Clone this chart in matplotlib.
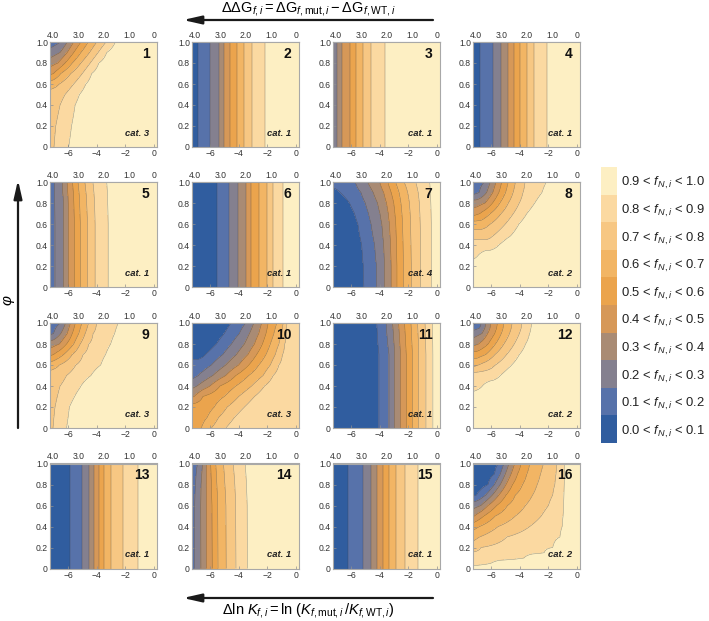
import numpy as np
import matplotlib
matplotlib.use('Agg')
import matplotlib.pyplot as plt

plt.rcParams['font.family'] = ['Liberation Sans', 'DejaVu Sans']
plt.rcParams['mathtext.fontset'] = 'custom'
plt.rcParams['mathtext.rm'] = 'Liberation Sans'
plt.rcParams['mathtext.it'] = 'Liberation Sans:italic'
plt.rcParams['mathtext.bf'] = 'Liberation Sans:bold'

nan = np.nan

# f_N,i bands
levels = [0.0, 0.1, 0.2, 0.3, 0.4, 0.5, 0.6, 0.7, 0.8, 0.9, 1.0]
band_colors = ['#305d9f', '#5772aa', '#84808f', '#a98b74', '#d69858',
               '#eba44d', '#f2b564', '#f7c783', '#fbd9a1', '#fdefc3']
band_labels = ['%.1f < $f_{N,i}$ < %.1f' % (levels[k], levels[k + 1]) for k in range(10)]
crossing_levels = np.array(levels[1:-1])

x_ticks = [-6, -4, -2, 0]
top_ticks = [4.0, 3.0, 2.0, 1.0, 0.0]
top_labels = ['4.0', '3.0', '2.0', '1.0', '0']
y_ticks = [0, 0.2, 0.4, 0.6, 0.8, 1.0]
y_labels = ['0', '0.2', '0.4', '0.6', '0.8', '1.0']
RT = 0.57

categories = ['cat. 3', 'cat. 1', 'cat. 1', 'cat. 1',
              'cat. 1', 'cat. 1', 'cat. 4', 'cat. 2',
              'cat. 3', 'cat. 3', 'cat. 1', 'cat. 2',
              'cat. 1', 'cat. 1', 'cat. 1', 'cat. 2']

# ln K where f crosses 0.1 ... 0.9, one row per phi value (nan = outside the panel)
phi1 = [0.0, 0.2, 0.4, 0.5, 0.6, 0.7, 0.8, 0.9, 1.0]
cross1 = [[nan, nan, nan, nan, nan, nan, nan, -6.97, -5.95],
          [nan, nan, nan, nan, nan, nan, nan, -6.85, -5.75],
          [nan, nan, nan, nan, nan, nan, nan, -6.55, -5.5],
          [nan, nan, nan, nan, nan, nan, nan, -6.2, -5.2],
          [nan, nan, nan, nan, nan, nan, -6.6, -5.6, -4.75],
          [nan, nan, nan, nan, -7.0, -6.5, -5.8, -5.0, -4.35],
          [nan, nan, nan, -6.7, -6.2, -5.7, -5.1, -4.45, -3.85],
          [nan, nan, -6.55, -6.05, -5.6, -5.1, -4.5, -3.9, -3.3],
          [nan, -6.5, -6.05, -5.6, -5.1, -4.6, -4.0, -3.35, -2.7]]

phi2 = [0.0, 1.0]
cross2 = [[-6.86, -6.0, -5.4, -5.0, -4.6, -4.1, -3.6, -3.1, -2.2],
          [-6.86, -6.0, -5.4, -5.0, -4.6, -4.1, -3.6, -3.1, -2.2]]

phi3 = [0.0, 1.0]
cross3 = [[nan, nan, -6.97, -6.63, -6.1, -5.65, -5.19, -4.64, -3.66],
          [nan, nan, -6.97, -6.63, -6.1, -5.65, -5.19, -4.64, -3.66]]

phi4 = [0.0, 1.0]
cross4 = [[-6.75, -5.89, -5.29, -4.84, -4.38, -4.0, -3.48, -2.97, -2.13],
          [-6.75, -5.89, -5.29, -4.84, -4.38, -4.0, -3.48, -2.97, -2.13]]

phi5 = [0.0, 0.6, 0.85, 1.0]
cross5 = [[nan, -6.9, -6.29, -5.95, -5.55, -5.14, -4.64, -4.11, -3.2],
          [nan, -6.9, -6.29, -5.95, -5.55, -5.14, -4.64, -4.11, -3.2],
          [nan, -6.92, -6.33, -5.99, -5.6, -5.2, -4.71, -4.17, -3.24],
          [nan, -6.95, -6.4, -6.06, -5.68, -5.3, -4.82, -4.27, -3.3]]

phi6 = [0.0, 1.0]
cross6 = [[-5.48, -4.69, -4.03, -3.51, -3.13, -2.61, -2.04, -1.59, -0.91],
          [-5.48, -4.69, -4.03, -3.51, -3.13, -2.61, -2.04, -1.59, -0.91]]

phi7 = [0.0, 0.2, 0.4, 0.6, 0.7, 0.8, 0.9, 1.0]
cross7 = [[-5.1, -4.2, -3.65, -3.2, -2.8, -2.35, -1.8, -1.15, -0.4],
          [-5.14, -4.22, -3.66, -3.2, -2.8, -2.35, -1.8, -1.15, -0.4],
          [-5.25, -4.35, -3.72, -3.24, -2.83, -2.37, -1.82, -1.16, -0.4],
          [-5.52, -4.6, -3.85, -3.32, -2.88, -2.41, -1.85, -1.18, -0.41],
          [-5.75, -4.78, -3.98, -3.4, -2.94, -2.45, -1.88, -1.2, -0.42],
          [-6.1, -5.0, -4.15, -3.52, -3.02, -2.52, -1.93, -1.24, -0.44],
          [-6.75, -5.3, -4.45, -3.72, -3.2, -2.65, -2.05, -1.32, -0.47],
          [nan, -5.7, -4.85, -4.0, -3.45, -2.9, -2.3, -1.5, -0.52]]

phi8 = [0.0, 0.2, 0.3, 0.4, 0.5, 0.6, 0.7, 0.8, 0.9, 1.0]
cross8 = [[nan, nan, nan, nan, nan, nan, nan, nan, -8.5],
          [nan, nan, nan, nan, nan, nan, nan, nan, -8.0],
          [nan, nan, nan, nan, nan, nan, nan, nan, -6.9],
          [nan, nan, nan, nan, nan, nan, nan, nan, -5.45],
          [nan, nan, nan, nan, nan, nan, nan, -5.74, -4.55],
          [nan, nan, nan, nan, nan, nan, -6.04, -5.0, -4.05],
          [nan, nan, nan, nan, -6.77, -6.04, -5.29, -4.44, -3.5],
          [nan, nan, nan, -6.41, -5.89, -5.38, -4.79, -4.03, -2.95],
          [nan, -6.82, -6.3, -5.87, -5.45, -4.98, -4.46, -3.77, -2.45],
          [nan, -6.45, -6.05, -5.65, -5.25, -4.8, -4.3, -3.63, -2.15]]

phi9 = [0.0, 0.2, 0.4, 0.5, 0.6, 0.7, 0.8, 0.9, 1.0]
cross9 = [[nan, nan, nan, nan, nan, nan, nan, -7.04, -6.1],
          [nan, nan, nan, nan, nan, nan, nan, -6.9, -5.9],
          [nan, nan, nan, nan, nan, nan, nan, -6.55, -5.1],
          [nan, nan, nan, nan, nan, nan, nan, -6.1, -4.4],
          [nan, nan, nan, nan, nan, nan, -6.6, -5.45, -3.72],
          [nan, nan, nan, nan, -7.0, -6.3, -5.7, -4.95, -3.38],
          [nan, nan, nan, -6.6, -6.1, -5.6, -5.15, -4.55, -3.03],
          [nan, -7.0, -6.5, -6.05, -5.7, -5.25, -4.8, -4.25, -2.75],
          [nan, -6.51, -6.17, -5.83, -5.49, -5.03, -4.57, -4.0, -2.5]]

phi10 = [0.0, 0.1, 0.2, 0.3, 0.4, 0.5, 0.6, 0.7, 0.8, 0.9, 1.0]
cross10 = [[nan, nan, nan, nan, nan, -6.6, -5.9, -4.9, nan],
           [nan, nan, nan, nan, nan, -6.2, -5.4, -4.3, nan],
           [nan, nan, nan, nan, nan, -5.7, -4.8, -3.6, nan],
           [nan, nan, nan, -7.1, -6.5, -5.0, -4.0, -2.9, nan],
           [nan, nan, -6.9, -6.0, -5.3, -4.2, -3.1, -2.2, nan],
           [nan, -6.8, -5.8, -4.9, -4.2, -3.3, -2.3, -1.6, nan],
           [nan, -5.9, -4.9, -4.0, -3.3, -2.6, -1.8, -1.2, nan],
           [-6.3, -5.1, -4.15, -3.35, -2.75, -2.1, -1.45, -0.95, nan],
           [-5.55, -4.5, -3.6, -2.9, -2.35, -1.8, -1.2, -0.8, nan],
           [-5.0, -3.95, -3.25, -2.6, -2.1, -1.55, -1.0, -0.7, nan],
           [-4.53, -3.5, -2.95, -2.4, -1.95, -1.35, -0.9, -0.65, nan]]

phi11 = [0.0, 0.7, 1.0]
cross11 = [[-4.05, -3.35, -2.95, -2.55, -2.15, -1.72, -1.28, -0.78, -0.3],
           [-4.05, -3.35, -2.95, -2.55, -2.15, -1.72, -1.28, -0.78, -0.3],
           [-4.2, -3.55, -3.1, -2.68, -2.27, -1.82, -1.36, -0.84, -0.32]]

phi12 = [0.0, 0.3, 0.4, 0.5, 0.6, 0.7, 0.8, 0.9, 0.95, 1.0]
cross12 = [[nan, nan, nan, nan, nan, nan, nan, nan, -8.5],
           [nan, nan, nan, nan, nan, nan, nan, nan, -8.0],
           [nan, nan, nan, nan, nan, nan, nan, nan, -6.6],
           [nan, nan, nan, nan, nan, nan, nan, nan, -5.35],
           [nan, nan, nan, nan, nan, nan, -6.88, -5.69, -4.56],
           [nan, nan, nan, nan, nan, -6.36, -5.72, -4.91, -4.02],
           [nan, nan, nan, -6.86, -6.2, -5.69, -5.1, -4.38, -3.59],
           [nan, nan, -6.62, -6.23, -5.74, -5.28, -4.71, -4.02, -3.31],
           [nan, -6.81, -6.43, -6.07, -5.61, -5.16, -4.59, -3.9, -3.22],
           [-6.9, -6.68, -6.34, -6.0, -5.55, -5.1, -4.53, -3.85, -3.17]]

phi13 = [0.0, 1.0]
cross13 = [[-5.85, -5.0, -4.55, -4.16, -3.82, -3.48, -3.04, -2.2, -1.12],
           [-5.85, -5.0, -4.55, -4.16, -3.82, -3.48, -3.04, -2.2, -1.12]]

phi14 = [0.0, 0.6, 0.8, 1.0]
cross14 = [[nan, -7.06, -6.63, -6.23, -5.84, -5.44, -4.87, -4.19, -3.4],
           [nan, -7.06, -6.64, -6.25, -5.86, -5.46, -4.89, -4.21, -3.41],
           [nan, -7.0, -6.62, -6.26, -5.9, -5.52, -4.96, -4.27, -3.46],
           [nan, -6.85, -6.52, -6.22, -5.95, -5.6, -5.06, -4.38, -3.55]]

phi15 = [0.0, 1.0]
cross15 = [[-6.2, -5.17, -4.62, -4.17, -3.76, -3.34, -2.84, -2.27, -1.36],
           [-6.2, -5.17, -4.62, -4.17, -3.76, -3.34, -2.84, -2.27, -1.36]]

phi16 = [0.0, 0.05, 0.1, 0.15, 0.2, 0.3, 0.4, 0.5, 0.6, 0.7, 0.8, 0.9, 1.0]
cross16 = [[nan, nan, nan, nan, nan, nan, nan, -11.0, -8.5],
           [nan, nan, nan, nan, nan, nan, nan, -9.0, -6.0],
           [nan, nan, nan, nan, nan, nan, nan, -8.2, -3.7],
           [nan, nan, nan, nan, nan, nan, nan, -7.6, -2.3],
           [nan, nan, nan, nan, nan, nan, nan, -6.7, -1.7],
           [nan, nan, nan, nan, nan, nan, -6.8, -4.9, -1.2],
           [nan, nan, nan, nan, nan, -6.8, -5.5, -3.3, -1.04],
           [nan, nan, nan, -7.15, -6.5, -5.7, -4.3, -2.5, -0.98],
           [nan, nan, -6.7, -6.2, -5.6, -4.85, -3.6, -2.0, -0.94],
           [-7.0, -6.35, -5.9, -5.45, -4.95, -4.3, -3.1, -1.7, -0.92],
           [-6.2, -5.75, -5.35, -4.95, -4.5, -3.8, -2.78, -1.55, -0.9],
           [-5.75, -5.35, -5.0, -4.6, -4.15, -3.5, -2.55, -1.47, -0.89],
           [-5.45, -5.1, -4.75, -4.35, -3.9, -3.3, -2.35, -1.4, -0.88]]

panels = [(phi1, cross1), (phi2, cross2), (phi3, cross3), (phi4, cross4),
          (phi5, cross5), (phi6, cross6), (phi7, cross7), (phi8, cross8),
          (phi9, cross9), (phi10, cross10), (phi11, cross11), (phi12, cross12),
          (phi13, cross13), (phi14, cross14), (phi15, cross15), (phi16, cross16)]

lnk = np.linspace(-7.25, 0.2, 400)


def f_grid(cross):
    # one row of f values per phi, built from the crossing positions
    z = []
    for row in cross:
        row = np.asarray(row, dtype=float)
        ok = ~np.isnan(row)
        xp = row[ok]
        fp = crossing_levels[ok]
        xp = np.concatenate([[xp[0] - 0.6], xp, [xp[-1] + 0.6]])
        fp = np.concatenate([[fp[0] - 0.05], fp, [fp[-1] + 0.05]])
        z.append(np.interp(lnk, xp, fp))
    return np.array(z)


W, H = 709, 621
fig = plt.figure(figsize=(W / 100, H / 100), dpi=100)

# overlay for arrows and axis titles (pixel coordinates)
ov = fig.add_axes([0, 0, 1, 1])
ov.set_xlim(0, W)
ov.set_ylim(H, 0)
ov.axis('off')

col_left = [50, 192, 333, 473]
row_top = [42, 182, 323, 463.5]
pw, ph = 107, 105

for i, (phi, cross) in enumerate(panels):
    r, c = divmod(i, 4)
    ax = fig.add_axes([col_left[c] / W, 1 - (row_top[r] + ph) / H, pw / W, ph / H])
    z = f_grid(cross)
    cs = ax.contourf(lnk, phi, z, levels=levels, colors=band_colors)
    ax.contour(lnk, phi, z, levels=levels[1:-1], colors='#3a3a3a',
               linewidths=0.35, alpha=0.55)
    ax.set_xlim(-7.25, 0.2)
    ax.set_ylim(0, 1)
    ax.set_xticks(x_ticks)
    ax.set_yticks(y_ticks)
    ax.set_yticklabels(y_labels)
    ax.tick_params(direction='in', length=2.5, width=0.5, colors='#909090',
                   labelcolor='#333333', labelsize=6.2, pad=1.5)
    for sp in ax.spines.values():
        sp.set_color('#a8a8a8')
        sp.set_linewidth(0.8)
    sec = ax.secondary_xaxis('top', functions=(lambda x: -RT * x, lambda g: -g / RT))
    sec.set_ticks(top_ticks, labels=top_labels)
    sec.tick_params(direction='in', length=2.5, width=0.5, colors='#909090',
                    labelcolor='#333333', labelsize=6.2, pad=1.5)
    sec.spines['top'].set_color('#a8a8a8')
    ax.text(0.93, 0.89, str(i + 1), transform=ax.transAxes, ha='right', va='center',
            fontsize=10, fontweight='bold', color='#111111')
    ax.text(0.93, 0.13, categories[i], transform=ax.transAxes, ha='right', va='center',
            fontsize=6.8, fontweight='bold', fontstyle='italic', color='#222222')

# colour key
cax = fig.add_axes([601 / W, 1 - 443 / H, 16 / W, 276 / H])
cb = fig.colorbar(cs, cax=cax, ticks=[l + 0.05 for l in levels[:-1]])
cb.ax.set_yticklabels(band_labels)
cb.ax.tick_params(length=0, labelsize=9.4, pad=3, labelcolor='#222222')
cb.outline.set_visible(False)

arrow = dict(arrowstyle='-|>,head_length=1.1,head_width=0.25', color='#1a1a1a',
             lw=1.6, shrinkA=0, shrinkB=0, mutation_scale=10)
ov.annotate('', xy=(183, 20), xytext=(433, 20), arrowprops=arrow)
ov.text(308, 9, r'$\Delta\Delta\mathrm{G}_{f,i} = \Delta\mathrm{G}_{f,\mathrm{mut},i} - \Delta\mathrm{G}_{f,\mathrm{WT},i}$',
        ha='center', va='center', fontsize=10.5)
ov.annotate('', xy=(183, 598), xytext=(433, 598), arrowprops=arrow)
ov.text(308, 611, r'$\Delta\mathrm{ln}\ K_{f,i} = \mathrm{ln}\ (K_{f,\mathrm{mut},i}\,/K_{f,\mathrm{WT},i})$',
        ha='center', va='center', fontsize=10.5)
ov.annotate('', xy=(18, 180), xytext=(18, 428), arrowprops=arrow)
ov.text(7, 300, 'φ', rotation=90, ha='center', va='center', fontsize=11, fontstyle='italic')

fig.savefig('out.png', dpi=100)
